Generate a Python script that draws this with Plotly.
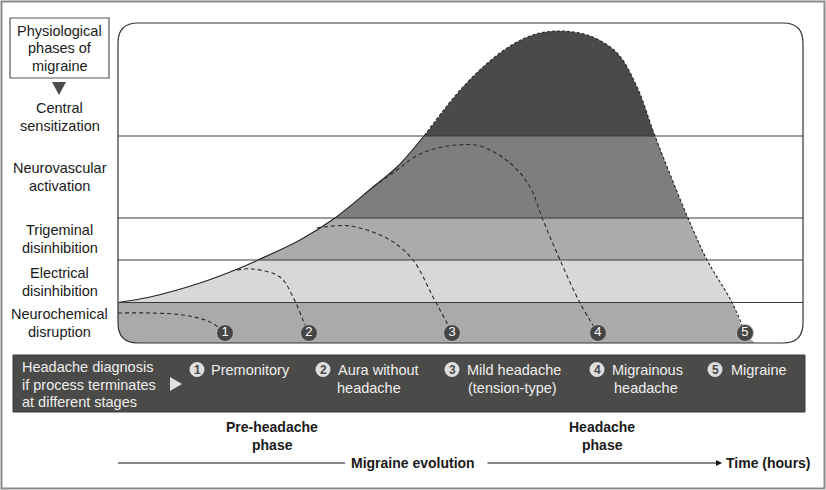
import plotly.graph_objects as go

# ---------------- data ----------------
# main migraine curve (time in arbitrary hours, level in phase-intensity units)
main_t = [0.0, 0.467, 1.197, 1.781, 2.044, 2.657, 3.168, 3.723, 4.073, 4.467, 5.036,
          5.577, 6.015, 6.423, 6.891, 7.285, 7.577, 7.839, 8.321, 8.599, 8.964, 9.153]
main_lvl = [4.05, 4.6, 6.0, 7.5, 8.3, 10.3, 12.5, 15.6, 17.6, 20.7, 25.6,
            29.0, 30.7, 31.2, 30.7, 29.0, 25.6, 20.7, 12.5, 8.3, 4.05, 1.0]
main_end_t = 9.299
main_end_lvl = 0.0

# processes terminating early (dashed)
c1_t = [0.0, 0.467, 0.949, 1.343, 1.562]
c1_lvl = [3.0, 3.0, 2.8, 2.1, 1.0]
c2_t = [1.737, 1.971, 2.365, 2.555, 2.701, 2.788]
c2_lvl = [7.3, 7.4, 6.6, 4.6, 2.3, 1.0]
c3_t = [2.905, 3.387, 3.971, 4.307, 4.599, 4.803, 4.876]
c3_lvl = [11.5, 11.7, 10.3, 8.3, 4.6, 2.0, 1.0]
c4_t = [3.723, 4.073, 4.307, 4.555, 4.949, 5.285, 5.723, 6.015, 6.204, 6.453, 6.745, 7.007]
c4_lvl = [15.6, 17.3, 18.5, 19.3, 19.8, 19.7, 18.0, 15.6, 12.3, 8.3, 4.0, 1.0]

end_t = [1.562, 2.788, 4.876, 7.007, 9.153]
end_lvl = [1.0, 1.0, 1.0, 1.0, 1.0]
end_labels = ["1", "2", "3", "4", "5"]

band_edges = [0.0, 4.05, 8.3, 12.5, 20.7, 32.0]
band_colors = ["#aaaaaa", "#d8d8d8", "#ababab", "#7e7e7e", "#4a4a48"]

phase_labels = [["Central", "sensitization"], ["Neurovascular", "activation"],
                ["Trigeminal", "disinhibition"], ["Electrical", "disinhibition"],
                ["Neurochemical", "disruption"]]
title_label = ["Physiological", "phases of", "migraine"]
box_intro = ["Headache diagnosis", "if process terminates", "at different stages"]
diagnosis_labels = [["Premonitory"], ["Aura without", "headache"],
                    ["Mild headache", "(tension-type)"], ["Migrainous", "headache"],
                    ["Migraine"]]
phase_names = [["Pre-headache", "phase"], ["Headache", "phase"]]
axis_text = "Migraine evolution"
axis_unit = "Time (hours)"

# ---------------- layout helpers ----------------
W, H = 826, 490
FONT = "Liberation Sans, Arial, sans-serif"


def px(x):
    return x / W


def py(y):
    return 1 - y / H


XPIX = 68.5  # pixels per time unit
YPIX = 10.0  # pixels per level unit
X0, X1 = 118, 803
Y0, Y1 = 343, 23
PAD = 8

fig = go.Figure()

# sky (white area above the curve) hides band colour outside the curve
sky_t = [-2.0] + main_t + [main_end_t, 9.8, 16.0, 16.0, -2.0]
sky_l = [main_lvl[0]] + main_lvl + [main_end_lvl, -3.0, -3.0, 70.0, 70.0]
fig.add_trace(go.Scatter(x=sky_t, y=sky_l, mode="lines", fill="toself",
                         fillcolor="white", line=dict(color="rgba(0,0,0,0)", width=0, shape="spline"),
                         hoverinfo="skip", showlegend=False))

# outline of main curve: solid on rise, dashed after
split = 10
fig.add_trace(go.Scatter(x=main_t[:split], y=main_lvl[:split], mode="lines",
                         line=dict(color="#222222", width=1.1, shape="spline"),
                         hoverinfo="skip", showlegend=False))
fig.add_trace(go.Scatter(x=main_t[split - 1:], y=main_lvl[split - 1:], mode="lines",
                         line=dict(color="#222222", width=1.1, shape="spline", dash="3px,2px"),
                         hoverinfo="skip", showlegend=False))

for ct, cl in [(c1_t, c1_lvl), (c2_t, c2_lvl), (c3_t, c3_lvl), (c4_t, c4_lvl)]:
    fig.add_trace(go.Scatter(x=ct, y=cl, mode="lines",
                             line=dict(color="#2a2a2a", width=1.1, shape="spline", dash="4px,3px"),
                             hoverinfo="skip", showlegend=False))

fig.add_trace(go.Scatter(x=end_t, y=end_lvl, mode="markers+text", text=end_labels,
                         textposition="middle center",
                         textfont=dict(family=FONT, size=13, color="white"),
                         marker=dict(size=17, color="#454545", line=dict(color="#bbbbbb", width=1)),
                         hoverinfo="skip", showlegend=False, cliponaxis=False))

shapes = []
rx = 20 / XPIX
ry = 20 / YPIX
xmax = (X1 - X0) / XPIX
ymax = (Y0 - Y1) / YPIX

# bands
for i in range(len(band_colors)):
    lo, hi = band_edges[i], band_edges[i + 1]
    if i == 0:
        path = f"M 0,{hi} L {xmax},{hi} L {xmax},{lo} L {rx},{lo} Q 0,{lo} 0,{ry} Z"
        shapes.append(dict(type="path", path=path, xref="x", yref="y", layer="below",
                           fillcolor=band_colors[i], line=dict(width=0)))
    else:
        shapes.append(dict(type="rect", x0=0, x1=xmax, y0=lo, y1=hi, xref="x", yref="y",
                           layer="below", fillcolor=band_colors[i], line=dict(width=0)))

# band lines
for e in band_edges[1:-1]:
    shapes.append(dict(type="line", x0=0, x1=xmax, y0=e, y1=e, xref="x", yref="y",
                       layer="above", line=dict(color="#3a3a3a", width=1)))

# panel border (rounded)
panel = (f"M {rx},{ymax} L {xmax - rx},{ymax} Q {xmax},{ymax} {xmax},{ymax - ry} "
         f"L {xmax},{ry} Q {xmax},0 {xmax - rx},0 L {rx},0 Q 0,0 0,{ry} "
         f"L 0,{ymax - ry} Q 0,{ymax} {rx},{ymax} Z")
shapes.append(dict(type="path", path=panel, xref="x", yref="y", layer="above",
                   line=dict(color="#333333", width=1.2)))

# outer frame
shapes.append(dict(type="rect", xref="paper", yref="paper", x0=px(1.5), x1=px(824.5),
                   y0=py(488.5), y1=py(1.5), line=dict(color="#8a8a8a", width=2)))

# title box & arrow triangle
shapes.append(dict(type="rect", xref="paper", yref="paper", x0=px(10), x1=px(109),
                   y0=py(78), y1=py(18), line=dict(color="#555555", width=1.2)))
shapes.append(dict(type="path", xref="paper", yref="paper",
                   path=f"M {px(52)},{py(82)} L {px(66)},{py(82)} L {px(59)},{py(95)} Z",
                   fillcolor="#4a4a4a", line=dict(width=0)))

# diagnosis box
shapes.append(dict(type="rect", xref="paper", yref="paper", x0=px(13), x1=px(805),
                   y0=py(412), y1=py(355), fillcolor="#4a4a48", line=dict(color="#3a3a3a", width=1)))
shapes.append(dict(type="path", xref="paper", yref="paper",
                   path=f"M {px(170)},{py(377)} L {px(182)},{py(384)} L {px(170)},{py(391)} Z",
                   fillcolor="#e0e0e0", line=dict(width=0)))

# axis line (left part)
shapes.append(dict(type="line", xref="paper", yref="paper", x0=px(118), x1=px(345),
                   y0=py(463), y1=py(463), line=dict(color="#111111", width=1.2)))

ann = []


def txt(s, x, y, size=14.5, bold=False, color="#1a1a1a", anchor="center"):
    ann.append(dict(text=f"<b>{s}</b>" if bold else s, x=px(x), y=py(y), xref="paper",
                    yref="paper", xanchor=anchor, yanchor="middle", showarrow=False,
                    font=dict(family=FONT, size=size, color=color)))


# left labels
for line, y in zip(title_label, [31, 48.5, 66]):
    txt(line, 59.5, y)
phase_y = [117, 177, 239, 281.5, 323]
for lines, yc in zip(phase_labels, phase_y):
    for j, line in enumerate(lines):
        txt(line, 60, yc + (j - 0.5) * 18)

# diagnosis box text
for line, y in zip(box_intro, [367, 384.5, 402]):
    txt(line, 20, y, color="#eeeeee", anchor="left")

circ_x = [197, 323, 452, 597, 715]
text_x = [209, 336, 465, 610, 729]
line2_x = [209, 335, 466, 612, 729]
for k, (lines, cx, tx, tx2) in enumerate(zip(diagnosis_labels, circ_x, text_x, line2_x)):
    cy = 369.5
    shapes.append(dict(type="circle", xref="paper", yref="paper", x0=px(cx - 7.5), x1=px(cx + 7.5),
                       y0=py(cy + 7.5), y1=py(cy - 7.5), fillcolor="#dedede", line=dict(width=0)))
    ann.append(dict(text=f"<b>{end_labels[k]}</b>", x=px(cx), y=py(cy + 0.5), xref="paper", yref="paper",
                    xanchor="center", yanchor="middle", showarrow=False,
                    font=dict(family=FONT, size=12, color="#4a4a48")))
    txt(lines[0], tx, 369.5, color="#eeeeee", anchor="left")
    if len(lines) > 1:
        txt(lines[1], tx2, 387.5, color="#eeeeee", anchor="left")

# phase names
for lines, xc in zip(phase_names, [272, 602]):
    txt(lines[0], xc, 427, size=14, bold=True)
    txt(lines[1], xc, 445, size=14, bold=True)

txt(axis_text, 413, 463, size=14, bold=True)
txt(axis_unit, 724, 463, size=14, bold=True, anchor="left")
ann.append(dict(text="", x=px(722), y=py(463), xref="paper", yref="paper",
                ax=-236, ay=0, showarrow=True, arrowhead=2, arrowsize=1,
                arrowwidth=1.2, arrowcolor="#111111", standoff=0))

fig.update_layout(
    width=W, height=H, margin=dict(l=0, r=0, t=0, b=0),
    paper_bgcolor="white", plot_bgcolor="white",
    xaxis=dict(domain=[px(X0 - PAD), px(X1 + PAD)],
               range=[-PAD / XPIX, (X1 - X0 + PAD) / XPIX],
               visible=False, fixedrange=True),
    yaxis=dict(domain=[py(Y0 + PAD), py(Y1 - PAD)],
               range=[-PAD / YPIX, (Y0 - Y1 + PAD) / YPIX],
               visible=False, fixedrange=True),
    shapes=shapes, annotations=ann, showlegend=False,
)

fig.write_html("out.html", config={"displayModeBar": False},
               post_script="document.body.style.margin='0';")
